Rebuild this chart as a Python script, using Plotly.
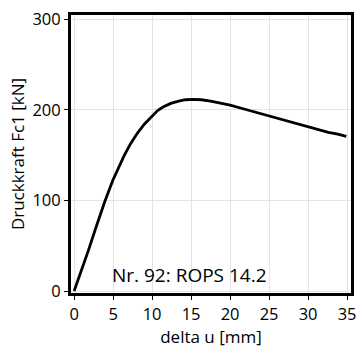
import plotly.graph_objects as go

# Measured force-displacement curve
delta_u = [0.0, 0.5, 1.0, 1.8, 2.8, 3.9, 4.95, 5.7, 6.4, 7.2, 8.1, 9.0, 10.0, 10.7,
           11.4, 12.4, 13.4, 14.3, 15.2, 16.3, 17.5, 18.7, 20.0, 21.9, 23.8, 25.0,
           26.3, 27.6, 28.8, 30.0, 31.3, 32.6, 33.8, 34.9]
force = [0.0, 12, 24, 44, 70, 98, 122, 136, 149, 162, 174, 184, 193, 199,
         203, 207, 209.5, 211, 211.5, 211, 209.5, 207.5, 205, 200.5, 196, 193,
         190, 187, 183.5, 180.6, 178, 175, 173, 170.5]

x_ticks = [0, 5, 10, 15, 20, 25, 30, 35]
y_ticks = [0, 100, 200, 300]

tick_font = dict(family="Open Sans", size=16.5, color="black")
title_font = dict(family="Open Sans", size=17, color="black")

fig = go.Figure()
fig.add_trace(go.Scatter(x=delta_u, y=force, mode="lines",
                         line=dict(color="black", width=2.8), showlegend=False))

fig.add_annotation(x=4.6, y=18, xref="x", yref="y", text="Nr. 92: ROPS 14.2",
                   showarrow=False, xanchor="left", yanchor="middle",
                   font=dict(family="Open Sans", size=19, color="black"))

axis_common = dict(showline=True, linecolor="black", linewidth=3, mirror=True,
                   showgrid=True, gridcolor="#e3e3e3", gridwidth=1,
                   ticks="outside", ticklen=4, tickcolor="black",
                   zeroline=False, tickfont=tick_font)

fig.update_xaxes(range=[-0.4, 35.5], tickvals=x_ticks,
                 title=dict(text="delta u [mm]", font=title_font, standoff=2),
                 **axis_common)
fig.update_yaxes(range=[-2.2, 304.5], tickvals=y_ticks,
                 title=dict(text="Druckkraft Fc1 [kN]", font=title_font, standoff=4),
                 **axis_common)

fig.update_layout(width=363, height=349, margin=dict(l=71, r=7, t=10, b=56),
                  plot_bgcolor="white", paper_bgcolor="white", font=tick_font)

fig.write_html("out.html")
